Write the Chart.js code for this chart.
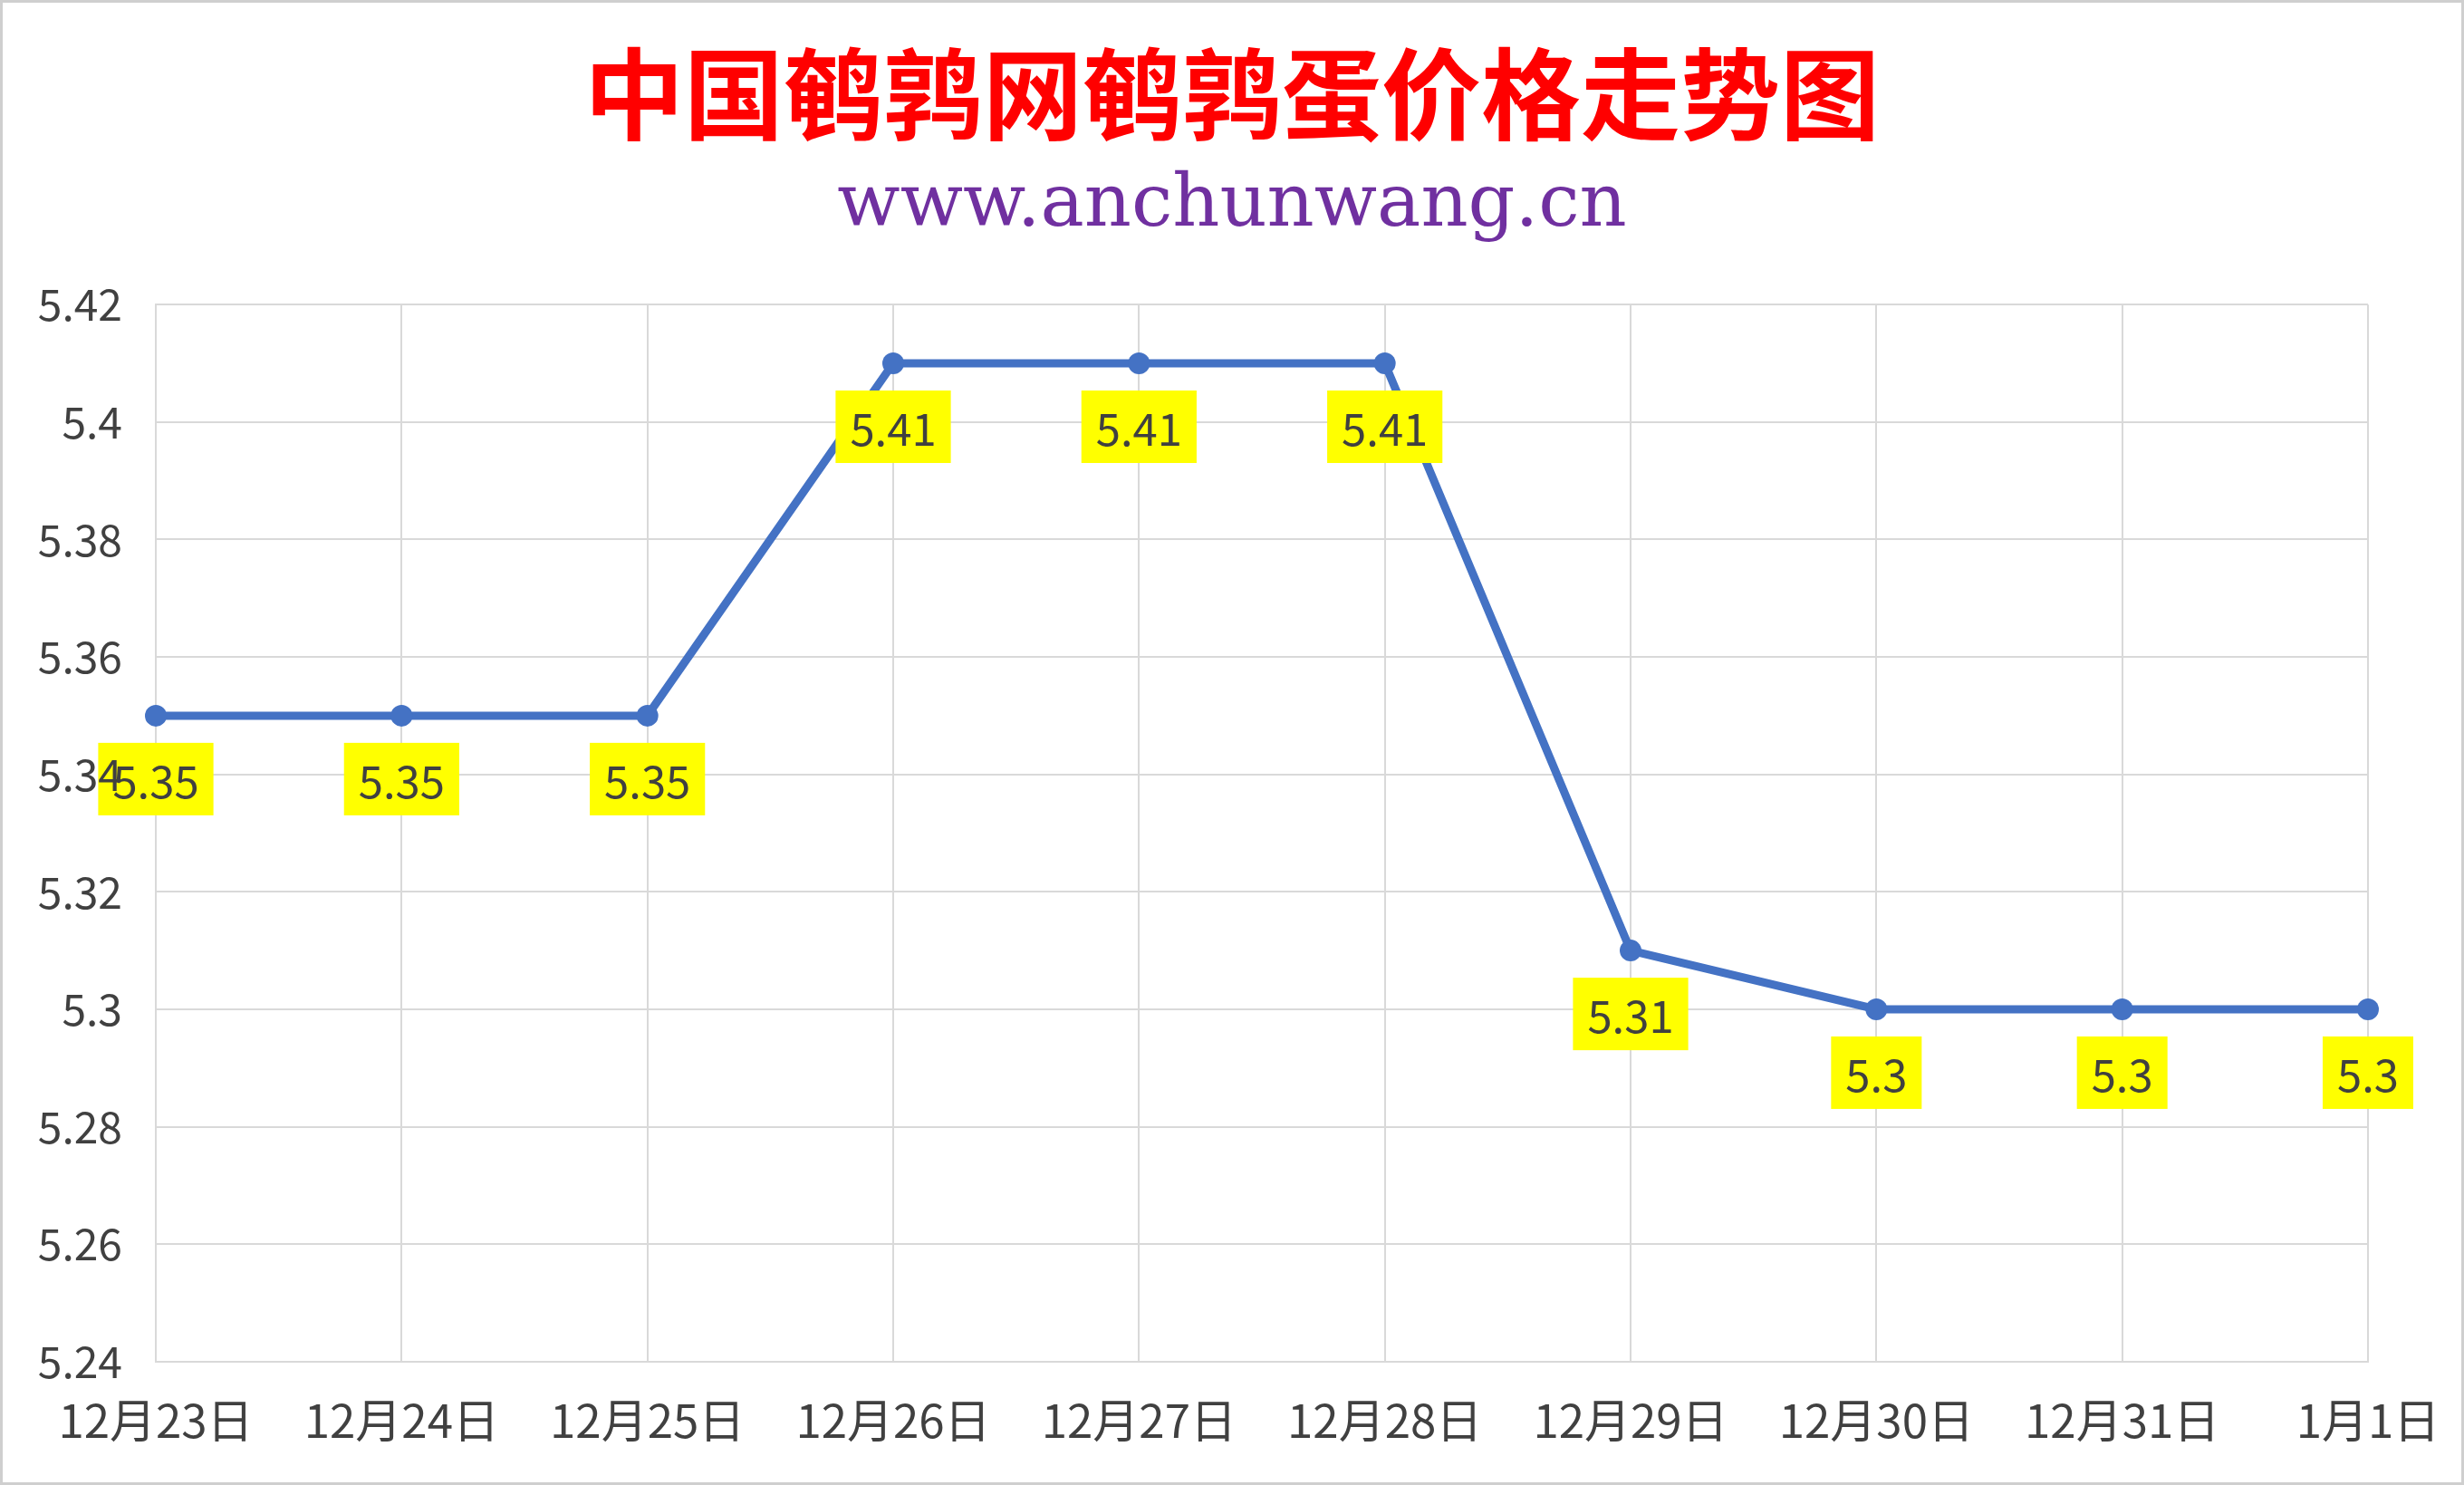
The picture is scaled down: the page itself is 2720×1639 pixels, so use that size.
<!DOCTYPE html>
<html>
<head>
<meta charset="utf-8">
<script src="https://cdn.jsdelivr.net/npm/chart.js@4"></script>
<style>
  html, body { margin: 0; padding: 0; background: #ffffff; }
  #wrap { width: 2720px; height: 1639px; position: relative; }
</style>
</head>
<body>
<div id="wrap"><canvas id="c"></canvas></div>
<script>
// ---- data ----
const categories = ['12月23日','12月24日','12月25日','12月26日','12月27日','12月28日','12月29日','12月30日','12月31日','1月1日'];
const prices = [5.35, 5.35, 5.35, 5.41, 5.41, 5.41, 5.31, 5.3, 5.3, 5.3];
const yTickLabels = ['5.24','5.26','5.28','5.3','5.32','5.34','5.36','5.38','5.4','5.42'];
const titleText = '中国鹌鹑网鹌鹑蛋价格走势图';
const subtitleText = 'www.anchunwang.cn';

const FONT = "'Noto Sans CJK SC', 'Noto Sans', sans-serif";

const frame = {
  id: 'frame',
  beforeDraw(chart) {
    const ctx = chart.ctx;
    ctx.save();
    ctx.fillStyle = '#ffffff';
    ctx.fillRect(0, 0, chart.width, chart.height);
    ctx.strokeStyle = '#cfcfcf';
    ctx.lineWidth = 3;
    ctx.strokeRect(1.5, 1.5, chart.width - 3, chart.height - 3);
    ctx.restore();
  }
};

const boxLabels = {
  id: 'boxLabels',
  afterDatasetsDraw(chart) {
    const ctx = chart.ctx;
    const meta = chart.getDatasetMeta(0);
    const data = chart.data.datasets[0].data;
    ctx.save();
    ctx.font = '49px ' + FONT;
    ctx.textAlign = 'center';
    ctx.textBaseline = 'middle';
    meta.data.forEach((pt, i) => {
      const txt = String(data[i]);
      const w = ctx.measureText(txt).width + 32;
      const h = 80;
      const cx = pt.x;
      const cy = pt.y + 70;
      ctx.fillStyle = '#FFFF00';
      ctx.fillRect(cx - w / 2, cy - h / 2, w, h);
      ctx.fillStyle = '#404040';
      ctx.fillText(txt, cx, cy + 2);
    });
    ctx.restore();
  }
};

new Chart(document.getElementById('c'), {
  type: 'line',
  data: {
    labels: categories,
    datasets: [{
      data: prices,
      borderColor: '#4472C4',
      backgroundColor: '#4472C4',
      borderWidth: 9,
      pointRadius: 12,
      pointHoverRadius: 12,
      pointBackgroundColor: '#4472C4',
      pointBorderWidth: 0,
      tension: 0,
      fill: false
    }]
  },
  options: {
    responsive: true,
    maintainAspectRatio: false,
    devicePixelRatio: 1,
    animation: false,
    layout: { padding: { top: 0, left: 0, right: 0, bottom: 7 } },
    plugins: {
      legend: { display: false },
      tooltip: { enabled: false },
      title: {
        display: true,
        text: titleText,
        color: '#FF0000',
        font: { family: FONT, size: 110, weight: 'bold', lineHeight: 1.2 },
        padding: { top: 38, bottom: 9 }
      },
      subtitle: {
        display: true,
        text: subtitleText,
        color: '#7030A0',
        font: { family: "'DejaVu Serif', 'Liberation Serif', serif", size: 81, weight: 'normal', lineHeight: 1.2 },
        padding: { top: 0, bottom: 60 }
      }
    },
    scales: {
      x: {
        type: 'category',
        offset: false,
        grid: { color: '#d9d9d9', lineWidth: 2, drawTicks: false },
        border: { color: '#d9d9d9', width: 2 },
        ticks: { color: '#404040', font: { family: FONT, size: 51 }, padding: 34, maxRotation: 0, autoSkip: false },
        afterFit: (scale) => { scale.paddingRight = 106; }
      },
      y: {
        min: 5.24,
        max: 5.42,
        grid: { color: '#d9d9d9', lineWidth: 2, drawTicks: false },
        border: { color: '#d9d9d9', width: 2 },
        ticks: {
          stepSize: 0.02,
          color: '#404040',
          font: { family: FONT, size: 48 },
          padding: 37,
          z: 1,
          callback: (v, i) => yTickLabels[i] !== undefined ? yTickLabels[i] : String(v)
        },
        afterFit: (scale) => { scale.width = 172; }
      }
    }
  },
  plugins: [frame, boxLabels]
});
</script>
</body>
</html>
